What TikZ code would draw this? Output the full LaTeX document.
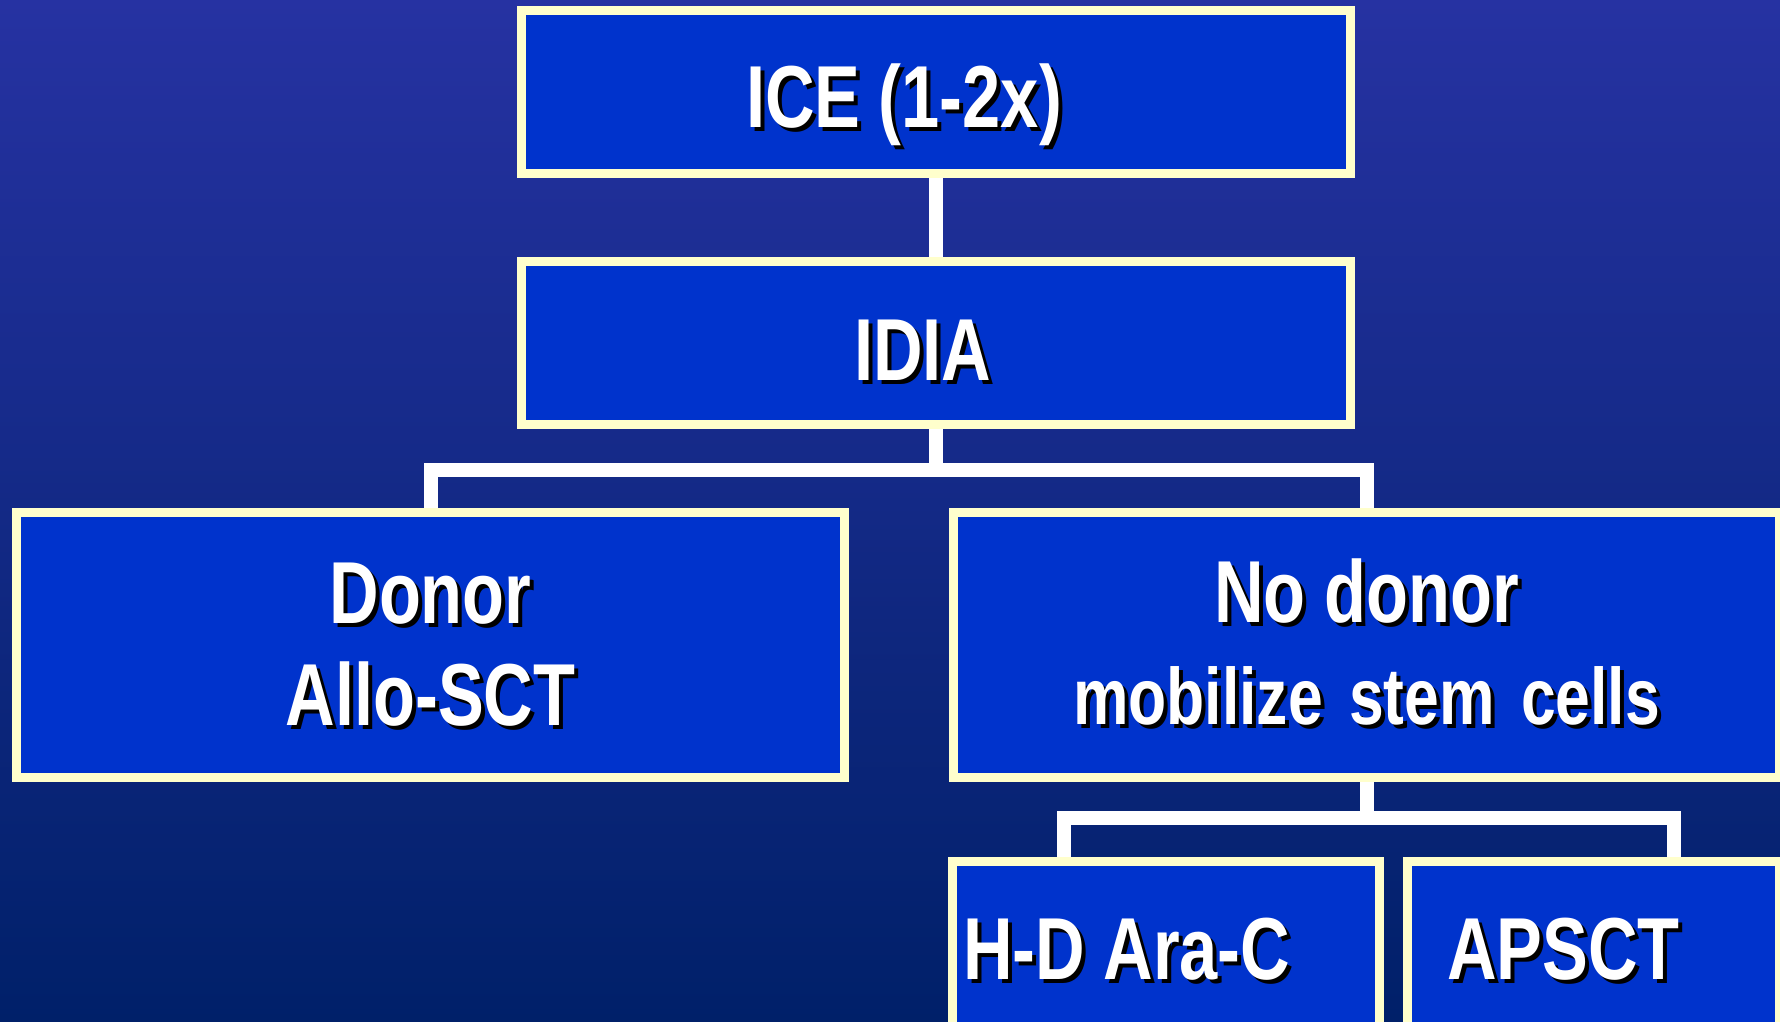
\documentclass[tikz,border=0pt]{standalone}
\usepackage{fontspec}
\setmainfont{Liberation Sans}[FakeStretch=0.78]
\usepackage{tikz}
\definecolor{boxfill}{RGB}{0,51,204}
\definecolor{boxedge}{RGB}{255,255,204}
\definecolor{bgtop}{RGB}{38,50,162}
\definecolor{bgmid}{RGB}{27,43,145}
\definecolor{bgbot}{RGB}{0,32,105}
\newcommand{\shad}[2][0.21em]{\leavevmode{\spaceskip=#1\relax
  \rlap{\kern4pt\raisebox{-4pt}{\color{black}#2}}#2}}

\begin{document}
\begin{tikzpicture}[x=1pt,y=-1pt,
  box/.style={draw=boxedge,line width=9pt,fill=boxfill,inner sep=0pt,text=white,
    font=\bfseries\fontsize{88}{102}\selectfont},
  link/.style={draw=white,line width=14pt}]
  \useasboundingbox (0,0) rectangle (1780,1022);
  \clip (0,0) rectangle (1780,1022);
  \shade[top color=bgtop,middle color=bgmid,bottom color=bgbot] (0,0) rectangle (1780,1022);

  \node[box,minimum width=829pt,minimum height=163pt,text width=380pt,align=left,
    text height=72pt,text depth=0pt] (ice) at (936,92) {\shad{ICE (1-2x)}};
  \node[box,minimum width=829pt,minimum height=163pt,text width=164pt,align=left,
    text height=74pt,text depth=0pt] (idia) at (936,343) {\shad{IDIA}};
  \node[box,minimum width=828pt,minimum height=265pt,text width=700pt,align=center,
    text height=58pt,text depth=102pt] (donor) at (430.5,645) {\shad{Donor}\\\shad{Allo-SCT}};
  \node[box,minimum width=826pt,minimum height=265pt,text width=800pt,align=center,
    text height=49pt,text depth=95pt] (nodonor) at (1366.5,645)
    {\shad{No donor}\\\fontsize{80}{95}\selectfont\shad[0.33em]{mobilize stem cells}};
  \node[box,minimum width=427pt,minimum height=174pt,text width=406pt,align=left,
    text height=61pt,text depth=0pt] (hdara) at (1166,948.5) {\shad{H-D Ara-C}};
  \node[box,minimum width=372pt,minimum height=174pt,text width=293pt,align=left,
    text height=61pt,text depth=0pt] (apsct) at (1593.5,948.5) {\shad{APSCT}};

  \coordinate (split) at (936,470);
  \coordinate (lowsplit) at (1368,818);
  \draw[link] (ice.south) -- (idia.north);
  \draw[link] (idia.south) -- (split);
  \draw[link] (donor.north) |- (split) -| (nodonor.north);
  \draw[link] (nodonor.south) -- (nodonor.south |- lowsplit);
  \draw[link] (hdara.north -| 1064,0) |- (lowsplit) -| (apsct.north -| 1674,0);
\end{tikzpicture}
\end{document}
